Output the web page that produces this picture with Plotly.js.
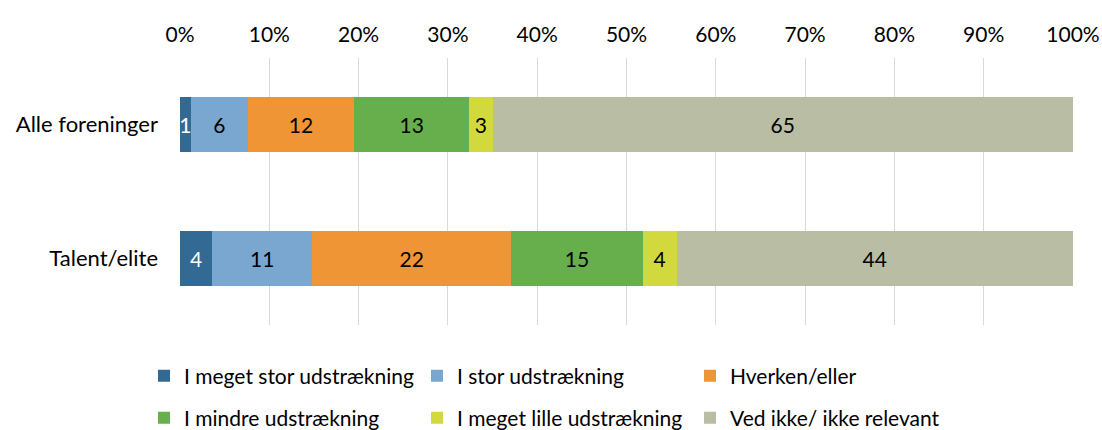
<!DOCTYPE html>
<html><head><meta charset="utf-8">
<script src="https://cdn.plot.ly/plotly-3.0.1.min.js"></script>
<style>html,body{margin:0;padding:0;background:#fff}#chart{width:1102px;height:430px}</style>
</head><body><div id="chart"></div>
<script>
const categories = ["Alle foreninger", "Talent/elite"];
const seriesNames = ["I meget stor udstrækning", "I stor udstrækning", "Hverken/eller", "I mindre udstrækning", "I meget lille udstrækning", "Ved ikke/ ikke relevant"];
const meget_stor = [1.2, 3.6];
const stor = [6.4, 11.2];
const hverken = [11.9, 22.3];
const mindre = [12.9, 14.7];
const meget_lille = [2.6, 3.8];
const ved_ikke = [65.0, 44.4];
const labels = [[1, 4], [6, 11], [12, 22], [13, 15], [3, 4], [65, 44]];
const tickVals = [0,10,20,30,40,50,60,70,80,90,100];
const tickText = ["0%","10%","20%","30%","40%","50%","60%","70%","80%","90%","100%"];

const series = [meget_stor, stor, hverken, mindre, meget_lille, ved_ikke];
const colors = ["#336A94", "#7AA7CF", "#F09536", "#67AE4D", "#D2D93C", "#B9BDA4"];
const textColors = ["#ffffff", "#000000", "#000000", "#000000", "#000000", "#000000"];
const FONT = "Lato, 'Open Sans', sans-serif";

const traces = series.map((vals, i) => ({
  type: "bar",
  orientation: "h",
  name: seriesNames[i],
  y: categories,
  x: vals,
  text: labels[i].map(String),
  textposition: "inside",
  insidetextanchor: "middle",
  textangle: 0,
  constraintext: "none",
  textfont: {family: FONT, size: 21, color: textColors[i]},
  marker: {color: colors[i], line: {width: 0}},
  legend: i < 3 ? "legend" : "legend2",
  hoverinfo: "none"
}));

const legendCommon = {
  orientation: "h",
  xref: "container", yref: "container",
  xanchor: "left", yanchor: "middle",
  entrywidth: 228, entrywidthmode: "pixels",
  itemwidth: 30,
  font: {family: FONT, size: 21, color: "#000"},
  bgcolor: "rgba(0,0,0,0)",
  traceorder: "normal"
};

const layout = {
  width: 1102, height: 430,
  margin: {l: 180, r: 29, t: 58, b: 105},
  paper_bgcolor: "#fff", plot_bgcolor: "#fff",
  barmode: "stack",
  bargap: 0.59,
  font: {family: FONT, size: 21, color: "#000"},
  xaxis: {
    side: "top", range: [0, 100], tickvals: tickVals, ticktext: tickText,
    showgrid: true, gridcolor: "#D9D9D9", gridwidth: 1,
    zeroline: false, showline: false, ticks: "",
    ticklabelstandoff: 11,
    tickfont: {family: FONT, size: 21, color: "#000"},
    fixedrange: true
  },
  yaxis: {
    autorange: "reversed", showgrid: false, zeroline: false, showline: false,
    ticks: "", ticklabelstandoff: 21,
    tickfont: {family: FONT, size: 22, color: "#000"},
    fixedrange: true
  },
  legend: Object.assign({}, legendCommon, {x: 144/1102, y: 1 - 376/430}),
  legend2: Object.assign({}, legendCommon, {x: 144/1102, y: 1 - 418/430}),
  showlegend: true
};

Plotly.newPlot("chart", traces, layout, {displayModeBar: false, staticPlot: true});
</script>
</body></html>
